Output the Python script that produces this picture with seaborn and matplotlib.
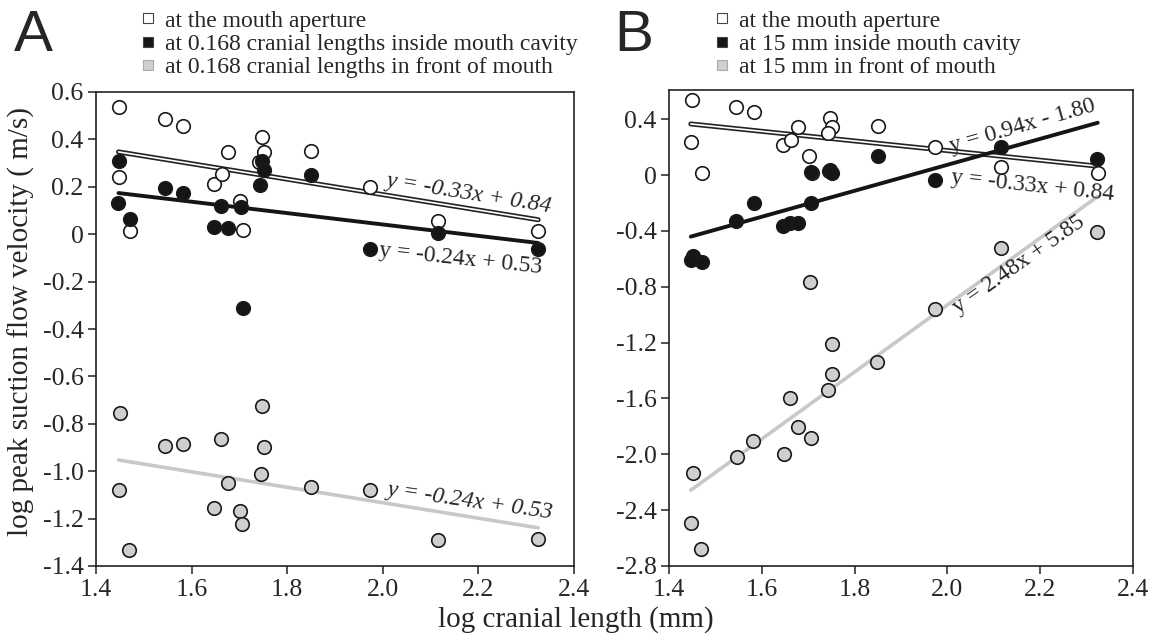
import matplotlib
matplotlib.use("Agg")
import matplotlib.pyplot as plt
from matplotlib.lines import Line2D
import seaborn as sns
import numpy as np
import pandas as pd

# --- data (log cranial length, log peak flow velocity) ---
# at the mouth aperture (same measurements in both panels)
mouth_x = [1.449, 1.448, 1.471, 1.545, 1.583, 1.646, 1.663, 1.677, 1.702, 1.708,
           1.747, 1.751, 1.742, 1.850, 1.973, 2.116, 2.324]
mouth_y = [0.535, 0.240, 0.012, 0.485, 0.455, 0.213, 0.252, 0.345, 0.140, 0.016,
           0.410, 0.345, 0.305, 0.352, 0.200, 0.055, 0.014]

# panel A: 0.168 cranial lengths inside / in front of the mouth
inside_a_x = [1.449, 1.447, 1.471, 1.545, 1.583, 1.646, 1.662, 1.677, 1.703, 1.708,
              1.744, 1.747, 1.752, 1.850, 1.973, 2.116, 2.324]
inside_a_y = [0.307, 0.132, 0.064, 0.195, 0.175, 0.031, 0.117, 0.027, 0.113, -0.310,
              0.206, 0.307, 0.270, 0.250, -0.064, 0.005, -0.064]
front_a_x = [1.450, 1.448, 1.470, 1.545, 1.583, 1.646, 1.661, 1.677, 1.702, 1.705,
             1.748, 1.751, 1.745, 1.849, 1.973, 2.116, 2.325]
front_a_y = [-0.754, -1.080, -1.333, -0.894, -0.884, -1.155, -0.863, -1.048, -1.168, -1.221,
             -0.723, -0.898, -1.013, -1.066, -1.080, -1.290, -1.287]

# panel B: 15 mm inside / in front of the mouth
inside_b_x = [1.451, 1.447, 1.472, 1.545, 1.583, 1.646, 1.660, 1.678, 1.707, 1.705,
              1.744, 1.748, 1.752, 1.850, 1.973, 2.115, 2.323]
inside_b_y = [-0.580, -0.610, -0.620, -0.330, -0.200, -0.364, -0.345, -0.345, -0.198, 0.024,
              0.030, 0.040, 0.012, 0.136, -0.036, 0.202, 0.119]
front_b_x = [1.451, 1.447, 1.470, 1.546, 1.582, 1.647, 1.660, 1.678, 1.704, 1.706,
             1.742, 1.751, 1.752, 1.848, 1.974, 2.115, 2.323]
front_b_y = [-2.131, -2.493, -2.679, -2.019, -1.905, -1.995, -1.595, -1.805, -0.769, -1.880,
             -1.536, -1.207, -1.426, -1.336, -0.959, -0.519, -0.405]

# regression lines as drawn (order: mouth, inside, front)
slopes_a = [-0.326, -0.240, -0.326]
intercepts_a = [0.819, 0.521, -0.481]
slopes_b = [-0.345, 0.930, 2.400]
intercepts_b = [0.866, -1.786, -5.730]

eq_a = ["y = -0.33x + 0.84", "y = -0.24x + 0.53", "y = -0.24x + 0.53"]
eq_b = ["y = -0.33x + 0.84", "y = 0.94x - 1.80", "y = 2.48x + 5.85"]

legend_a = ["at the mouth aperture",
            "at 0.168 cranial lengths inside mouth cavity",
            "at 0.168 cranial lengths in front of mouth"]
legend_b = ["at the mouth aperture",
            "at 15 mm inside mouth cavity",
            "at 15 mm in front of mouth"]

xticks = [1.4, 1.6, 1.8, 2.0, 2.2, 2.4]
xtick_labels = ["1.4", "1.6", "1.8", "2.0", "2.2", "2.4"]
yticks_a = [0.6, 0.4, 0.2, 0, -0.2, -0.4, -0.6, -0.8, -1.0, -1.2, -1.4]
ytick_labels_a = ["0.6", "0.4", "0.2", "0", "-0.2", "-0.4", "-0.6", "-0.8", "-1.0", "-1.2", "-1.4"]
yticks_b = [0.4, 0, -0.4, -0.8, -1.2, -1.6, -2.0, -2.4, -2.8]
ytick_labels_b = ["0.4", "0", "-0.4", "-0.8", "-1.2", "-1.6", "-2.0", "-2.4", "-2.8"]

sites = ["mouth", "inside", "front"]
fills = {"mouth": "white", "inside": "#151515", "front": "#cfcfcf"}

sns.set_theme(style="ticks")
plt.rcParams["font.family"] = ["Liberation Serif", "DejaVu Serif"]
plt.rcParams["axes.unicode_minus"] = False

fig = plt.figure(figsize=(11.53, 6.34), dpi=100)


def make_df(xy):
    parts = []
    for site, (xs, ys) in zip(sites, xy):
        parts.append(pd.DataFrame({"x": xs, "y": ys, "site": site}))
    return pd.concat(parts, ignore_index=True)


df_a = make_df([(mouth_x, mouth_y), (inside_a_x, inside_a_y), (front_a_x, front_a_y)])
df_b = make_df([(mouth_x, mouth_y), (inside_b_x, inside_b_y), (front_b_x, front_b_y)])


def draw_panel(ax, df, slopes, intercepts, ylim, yticks, ylabels):
    xs = np.array([df["x"].min(), df["x"].max()])
    for site, m, c in zip(sites, slopes, intercepts):
        ys = m * xs + c
        if site == "mouth":
            sns.lineplot(x=xs, y=ys, color="#222222", lw=3.6, ax=ax, zorder=2)
            sns.lineplot(x=xs, y=ys, color="white", lw=1.2, ax=ax, zorder=2)
        elif site == "inside":
            sns.lineplot(x=xs, y=ys, color="#151515", lw=2.8, ax=ax, zorder=2)
        else:
            sns.lineplot(x=xs, y=ys, color="#c8c8c8", lw=2.6, ax=ax, zorder=2)
    for site in ["front", "mouth", "inside"]:
        sub = df[df["site"] == site]
        sns.scatterplot(data=sub, x="x", y="y", color=fills[site], edgecolor="#1a1a1a",
                        linewidth=1.2, s=95, ax=ax, zorder=3, legend=False)
    ax.set_xlim(1.4, 2.4)
    ax.set_ylim(*ylim)
    ax.set_xticks(xticks, xtick_labels)
    ax.set_yticks(yticks, ylabels)
    ax.set_xlabel("")
    ax.set_ylabel("")
    ax.tick_params(direction="out", length=6, width=1.1, labelsize=18.5, pad=3, color="#222222")
    for sp in ax.spines.values():
        sp.set_linewidth(1.2)
        sp.set_color("#222222")


ax_a = fig.add_axes([96 / 1153, 68 / 634, 478 / 1153, 474 / 634])
draw_panel(ax_a, df_a, slopes_a, intercepts_a, (-1.4, 0.6), yticks_a, ytick_labels_a)
ax_b = fig.add_axes([669 / 1153, 68 / 634, 464 / 1153, 476 / 634])
draw_panel(ax_b, df_b, slopes_b, intercepts_b, (-2.8, 0.61), yticks_b, ytick_labels_b)

# equation labels
eq_kw = dict(fontsize=17, ha="center", va="center", rotation_mode="anchor", zorder=4)
ax_a.text(2.18, 0.172, eq_a[0], style="italic", rotation=-9, **eq_kw)
ax_a.text(2.163, -0.105, eq_a[1], rotation=-6, **eq_kw)
ax_a.text(2.184, -1.126, eq_a[2], style="italic", rotation=-8, **eq_kw)
ax_b.text(2.184, -0.079, eq_b[0], rotation=-6, **eq_kw)
ax_b.text(2.161, 0.35, eq_b[1], rotation=16, **eq_kw)
ax_b.text(2.155, -0.64, eq_b[2], rotation=35, **eq_kw)


# legends
def handles():
    return [Line2D([], [], ls="", marker="s", markersize=7, markerfacecolor=fills[s],
                   markeredgecolor="#444444" if s != "front" else "#aaaaaa", markeredgewidth=0.8)
            for s in sites]


for labels, x0 in [(legend_a, 140 / 1153), (legend_b, 714 / 1153)]:
    fig.legend(handles(), labels, loc="upper left", bbox_to_anchor=(x0, 1 - 10 / 634),
               frameon=False, fontsize=17, handlelength=0.7, handletextpad=0.35,
               labelspacing=0.08, borderpad=0, borderaxespad=0)

# panel letters
fig.text(14 / 1153, 1 - 9 / 634, "A", fontsize=42, family="Liberation Sans", va="top")
fig.text(614 / 1153, 1 - 9 / 634, "B", fontsize=42, family="Liberation Sans", va="top")

# axis labels
fig.text(576 / 1153, 1 / 634, "log cranial length (mm)", fontsize=21, ha="center", va="bottom")
fig.text(8 / 1153, 312 / 634, "log peak suction flow velocity ( m/s)", fontsize=21,
         rotation=90, ha="left", va="center")

fig.savefig("out.png", dpi=100)
